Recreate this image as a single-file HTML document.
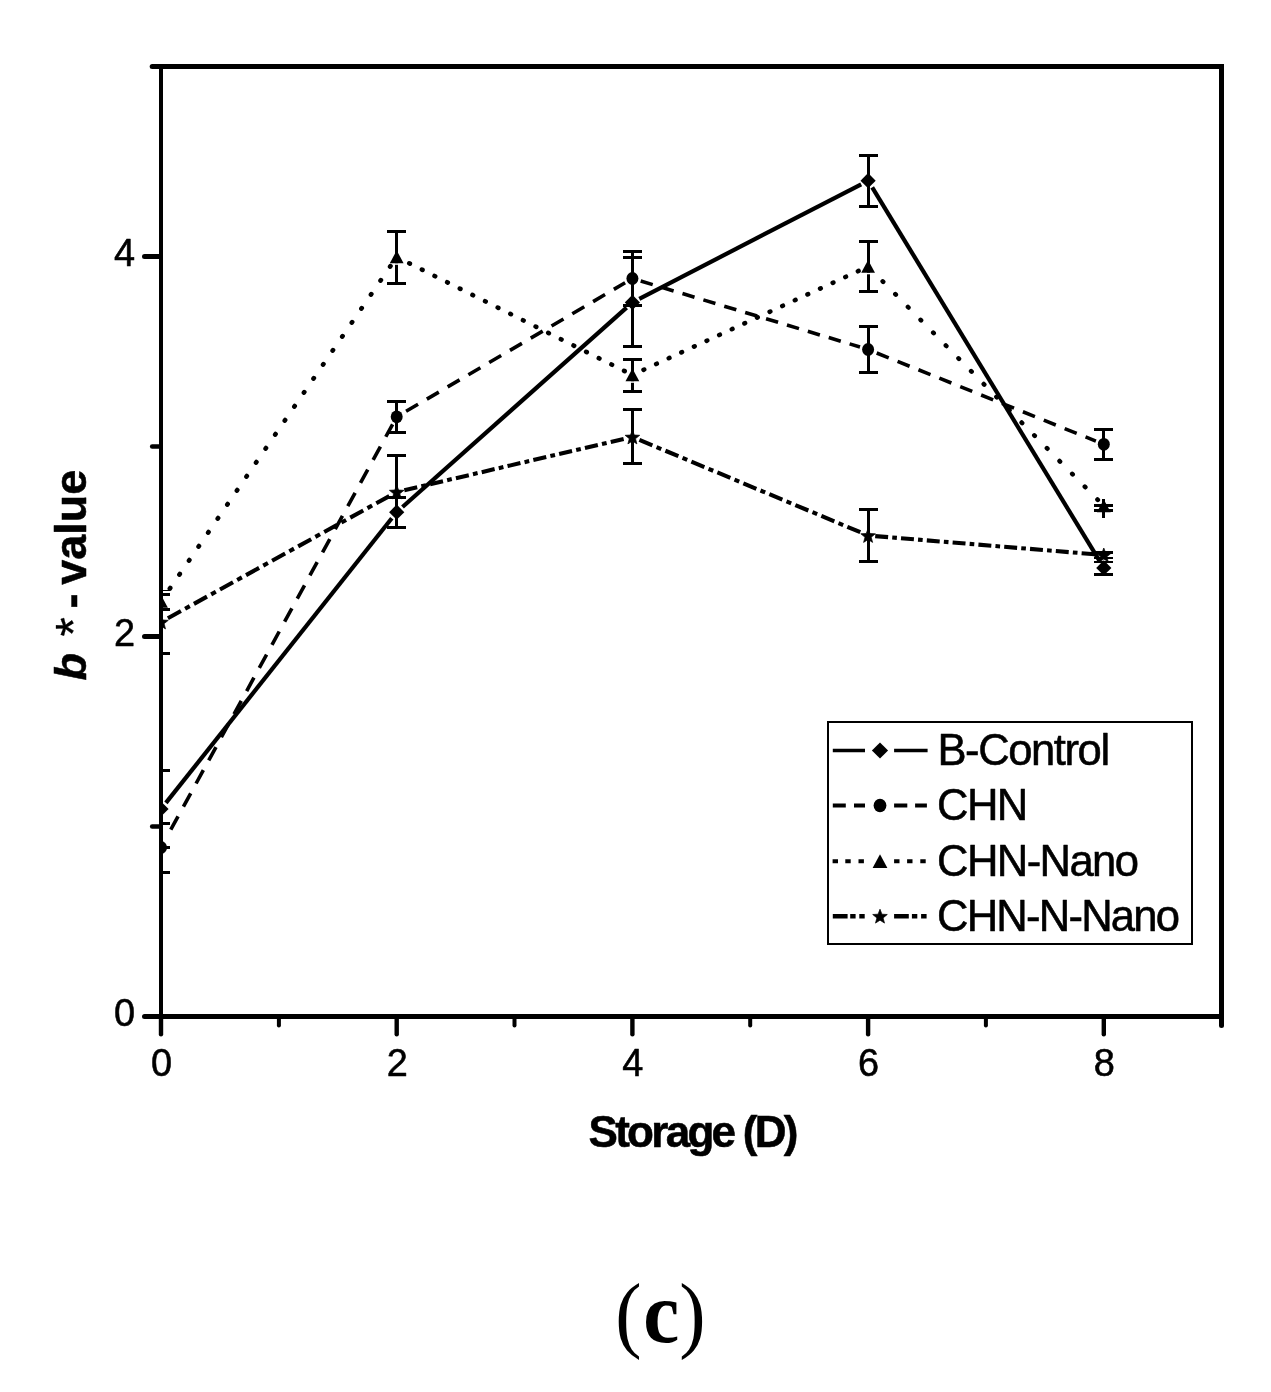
<!DOCTYPE html>
<html lang="en"><head><meta charset="utf-8"><title>b*-value vs Storage (c)</title>
<style>html,body{margin:0;padding:0;background:#fff}svg{display:block}</style></head>
<body>
<svg width="1271" height="1392" viewBox="0 0 1271 1392">
<rect width="1271" height="1392" fill="#fff"/>
<defs><clipPath id="cp"><rect x="161" y="66" width="1061" height="951"/></clipPath></defs>
<g clip-path="url(#cp)" fill="#000" stroke="none">
<path d="M165.9 802.9L391.8 518.3" stroke="#000" stroke-width="4.2" fill="none"/>
<path d="M402.5 507.0L626.6 307.6" stroke="#000" stroke-width="4.2" fill="none"/>
<path d="M639.3 298.8L861.2 184.3" stroke="#000" stroke-width="4.2" fill="none"/>
<path d="M872.2 187.4L1099.7 561.2" stroke="#000" stroke-width="4.2" fill="none"/>
<path d="M165.6 839.2L392.6 424.3" stroke="#000" stroke-width="3.6" fill="none" stroke-dasharray="15.15 11.20" stroke-dashoffset="15.55"/>
<path d="M406.1 411.3L625.1 282.8" stroke="#000" stroke-width="3.6" fill="none" stroke-dasharray="13.85 10.24" stroke-dashoffset="0.00"/>
<path d="M640.7 281.0L860.0 347.0" stroke="#000" stroke-width="3.6" fill="none" stroke-dasharray="12.55 9.27" stroke-dashoffset="0.00"/>
<path d="M876.7 353.0L1095.9 441.1" stroke="#000" stroke-width="3.6" fill="none" stroke-dasharray="12.94 9.57" stroke-dashoffset="0.00"/>
<path d="M165.8 594.5L391.9 264.0" stroke="#000" stroke-width="4.6" fill="none" stroke-dasharray="0.70 16.26" stroke-dashoffset="9.81" stroke-linecap="round"/>
<path d="M404.3 260.8L624.8 371.2" stroke="#000" stroke-width="4.6" fill="none" stroke-dasharray="0.70 13.43" stroke-dashoffset="8.58" stroke-linecap="round"/>
<path d="M640.1 371.4L860.4 270.1" stroke="#000" stroke-width="4.6" fill="none" stroke-dasharray="0.70 13.18" stroke-dashoffset="10.08" stroke-linecap="round"/>
<path d="M874.1 272.6L1097.8 499.9" stroke="#000" stroke-width="4.6" fill="none" stroke-dasharray="0.70 17.31" stroke-dashoffset="5.76" stroke-linecap="round"/>
<path d="M167.9 618.2L389.3 496.1" stroke="#000" stroke-width="4.1" fill="none" stroke-dasharray="14.88 4.76 5.35 4.76" stroke-dashoffset="0.00"/>
<path d="M404.3 490.2L624.1 438.9" stroke="#000" stroke-width="4.1" fill="none" stroke-dasharray="13.25 4.24 4.77 4.24" stroke-dashoffset="0.00"/>
<path d="M639.4 439.9L860.3 532.2" stroke="#000" stroke-width="4.1" fill="none" stroke-dasharray="14.08 4.51 5.07 4.51" stroke-dashoffset="0.00"/>
<path d="M875.2 536.1L1095.3 554.3" stroke="#000" stroke-width="4.1" fill="none" stroke-dasharray="12.95 4.14 4.66 4.14" stroke-dashoffset="0.00"/>
<g fill="#000" stroke="none" shape-rendering="crispEdges">
<rect x="159" y="771" width="3" height="76"/>
<rect x="151" y="769" width="19" height="3"/>
<rect x="151" y="846" width="19" height="3"/>
<rect x="395" y="498" width="3" height="29"/>
<rect x="387" y="496" width="19" height="3"/>
<rect x="387" y="526" width="19" height="3"/>
<rect x="631" y="257" width="3" height="89"/>
<rect x="623" y="256" width="19" height="3"/>
<rect x="623" y="345" width="19" height="3"/>
<rect x="867" y="156" width="3" height="51"/>
<rect x="859" y="154" width="19" height="3"/>
<rect x="859" y="205" width="19" height="3"/>
<rect x="1102" y="562" width="3" height="12"/>
<rect x="1094" y="561" width="19" height="2"/>
<rect x="1094" y="573" width="19" height="3"/>
<rect x="159" y="823" width="3" height="49"/>
<rect x="151" y="822" width="19" height="3"/>
<rect x="151" y="871" width="19" height="3"/>
<rect x="395" y="402" width="3" height="30"/>
<rect x="387" y="400" width="19" height="3"/>
<rect x="387" y="431" width="19" height="3"/>
<rect x="631" y="252" width="3" height="53"/>
<rect x="623" y="250" width="19" height="3"/>
<rect x="623" y="304" width="19" height="3"/>
<rect x="867" y="326" width="3" height="46"/>
<rect x="859" y="325" width="19" height="3"/>
<rect x="859" y="371" width="19" height="3"/>
<rect x="1102" y="430" width="3" height="29"/>
<rect x="1094" y="428" width="19" height="3"/>
<rect x="1094" y="458" width="19" height="3"/>
<rect x="159" y="595" width="3" height="14"/>
<rect x="151" y="593" width="19" height="3"/>
<rect x="151" y="608" width="19" height="3"/>
<rect x="395" y="232" width="3" height="52"/>
<rect x="387" y="230" width="19" height="3"/>
<rect x="387" y="282" width="19" height="3"/>
<rect x="631" y="360" width="3" height="31"/>
<rect x="623" y="358" width="19" height="3"/>
<rect x="623" y="390" width="19" height="3"/>
<rect x="867" y="242" width="3" height="50"/>
<rect x="859" y="240" width="19" height="3"/>
<rect x="859" y="290" width="19" height="3"/>
<rect x="1102" y="499" width="3" height="19"/>
<rect x="1094" y="504" width="19" height="3"/>
<rect x="1094" y="509" width="19" height="3"/>
<rect x="159" y="591" width="3" height="62"/>
<rect x="151" y="590" width="19" height="1"/>
<rect x="151" y="652" width="19" height="3"/>
<rect x="395" y="455" width="3" height="72"/>
<rect x="387" y="454" width="19" height="3"/>
<rect x="387" y="526" width="19" height="3"/>
<rect x="631" y="410" width="3" height="54"/>
<rect x="623" y="408" width="19" height="3"/>
<rect x="623" y="462" width="19" height="3"/>
<rect x="867" y="510" width="3" height="51"/>
<rect x="859" y="508" width="19" height="3"/>
<rect x="859" y="560" width="19" height="3"/>
<rect x="1102" y="552" width="3" height="6"/>
<rect x="1094" y="551" width="19" height="3"/>
<rect x="1094" y="557" width="19" height="2"/>
</g>
<rect x="395" y="263.2" width="3" height="1.6" fill="#fff"/>
<rect x="631" y="381.2" width="3" height="1.6" fill="#fff"/>
<rect x="867" y="272.7" width="3" height="1.6" fill="#fff"/>
<path d="M161.0 801.4L168.6 809.0L161.0 816.6L153.4 809.0Z"/>
<path d="M396.7 504.6L404.3 512.2L396.7 519.8L389.1 512.2Z"/>
<path d="M632.4 294.8L640.0 302.4L632.4 310.0L624.8 302.4Z"/>
<path d="M868.1 173.1L875.7 180.7L868.1 188.3L860.5 180.7Z"/>
<path d="M1103.8 560.3L1111.4 567.9L1103.8 575.5L1096.2 567.9Z"/>
<ellipse cx="161.0" cy="847.5" rx="6.0" ry="6.4"/>
<ellipse cx="396.7" cy="416.8" rx="6.0" ry="6.4"/>
<ellipse cx="632.4" cy="278.5" rx="6.0" ry="6.4"/>
<ellipse cx="868.1" cy="349.5" rx="6.0" ry="6.4"/>
<ellipse cx="1103.8" cy="444.3" rx="6.0" ry="6.4"/>
<path d="M161.0 594.9L167.9 607.7L154.1 607.7Z"/>
<path d="M396.7 250.4L403.6 263.2L389.8 263.2Z"/>
<path d="M632.4 368.4L639.3 381.2L625.5 381.2Z"/>
<path d="M868.1 259.9L875.0 272.7L861.2 272.7Z"/>
<path d="M1103.8 499.4L1110.7 512.2L1096.9 512.2Z"/>
<path d="M161.0 615.0L162.9 620.0L168.3 620.3L164.1 623.7L165.5 628.9L161.0 626.0L156.5 628.9L157.9 623.7L153.7 620.3L159.1 620.0Z" stroke="#000" stroke-width="0.7" stroke-linejoin="miter"/>
<path d="M396.7 485.0L398.6 490.0L404.0 490.3L399.8 493.7L401.2 498.9L396.7 496.0L392.2 498.9L393.6 493.7L389.4 490.3L394.8 490.0Z" stroke="#000" stroke-width="0.7" stroke-linejoin="miter"/>
<path d="M632.4 430.0L634.3 435.0L639.7 435.3L635.5 438.7L636.9 443.9L632.4 441.0L627.9 443.9L629.3 438.7L625.1 435.3L630.5 435.0Z" stroke="#000" stroke-width="0.7" stroke-linejoin="miter"/>
<path d="M868.1 528.5L870.0 533.5L875.4 533.8L871.2 537.2L872.6 542.4L868.1 539.5L863.6 542.4L865.0 537.2L860.8 533.8L866.2 533.5Z" stroke="#000" stroke-width="0.7" stroke-linejoin="miter"/>
<path d="M1103.8 548.0L1105.7 553.0L1111.1 553.3L1106.9 556.7L1108.3 561.9L1103.8 559.0L1099.3 561.9L1100.7 556.7L1096.5 553.3L1101.9 553.0Z" stroke="#000" stroke-width="0.7" stroke-linejoin="miter"/>
</g>
<g stroke="#000" fill="none" stroke-linecap="butt">
<path d="M161 64V1019" stroke-width="4" shape-rendering="crispEdges"/>
<path d="M1221.5 64V1025" stroke-width="5" shape-rendering="crispEdges"/>
<path d="M153 66.5H1224" stroke-width="5" shape-rendering="crispEdges"/>
<path d="M145 1016.5H1224" stroke-width="5" shape-rendering="crispEdges"/>
<path d="M144.5 1016.5H159" stroke-width="5" stroke-linecap="round"/>
<path d="M152.2 826.5H159" stroke-width="4.6" stroke-linecap="round"/>
<path d="M144.5 636.5H159" stroke-width="5" stroke-linecap="round"/>
<path d="M152.2 446.5H159" stroke-width="4.6" stroke-linecap="round"/>
<path d="M144.5 256.5H159" stroke-width="5" stroke-linecap="round"/>
<path d="M152.2 66.5H159" stroke-width="5" stroke-linecap="round"/>
<path d="M161.0 1018V1034.2" stroke-width="4.4" stroke-linecap="round"/>
<path d="M278.9 1018V1025.6" stroke-width="4" stroke-linecap="round"/>
<path d="M396.7 1018V1034.2" stroke-width="4.4" stroke-linecap="round"/>
<path d="M514.5 1018V1025.6" stroke-width="4" stroke-linecap="round"/>
<path d="M632.4 1018V1034.2" stroke-width="4.4" stroke-linecap="round"/>
<path d="M750.2 1018V1025.6" stroke-width="4" stroke-linecap="round"/>
<path d="M868.1 1018V1034.2" stroke-width="4.4" stroke-linecap="round"/>
<path d="M985.9 1018V1025.6" stroke-width="4" stroke-linecap="round"/>
<path d="M1103.8 1018V1034.2" stroke-width="4.4" stroke-linecap="round"/>
<path d="M1221.5 1018V1025.6" stroke-width="5" stroke-linecap="round"/>
</g>
<g font-family="'Liberation Sans', Arial, sans-serif" font-size="37.9" fill="#000" stroke="#000" stroke-width="0.55" stroke-linejoin="round">
<text x="135" y="1025.8" text-anchor="end">0</text>
<text x="135" y="645.8" text-anchor="end">2</text>
<text x="135" y="265.8" text-anchor="end">4</text>
<text x="161.5" y="1075.5" text-anchor="middle">0</text>
<text x="397.2" y="1075.5" text-anchor="middle">2</text>
<text x="632.9" y="1075.5" text-anchor="middle">4</text>
<text x="868.6" y="1075.5" text-anchor="middle">6</text>
<text x="1104.3" y="1075.5" text-anchor="middle">8</text>
</g>
<text x="588.5" y="1146.5" font-family="'Liberation Sans', Arial, sans-serif" font-weight="bold" font-size="44" textLength="210" lengthAdjust="spacing" stroke="#000" stroke-width="0.55" stroke-linejoin="round">Storage (D)</text>
<g transform="translate(86 679.5) rotate(-90)" font-family="'Liberation Sans', Arial, sans-serif" font-size="45" font-weight="bold" stroke="#000" stroke-width="0.55" stroke-linejoin="round">
<text x="-1" y="0" font-style="italic">b</text>
<text x="40.7" y="4.5" font-style="italic" font-weight="normal" font-size="50" stroke-width="0.3">*</text>
<text x="71" y="0">-</text>
<text x="94.8" y="0">value</text>
</g>
<rect x="828.2" y="722.2" width="363.3" height="221.6" fill="#fff" stroke="#000" stroke-width="2" shape-rendering="crispEdges"/>
<path d="M832.8 750.5H865.0M894.1 750.5H927.6" stroke="#000" stroke-width="3.3" fill="none"/>
<path d="M880.0 742.4L888.1 750.5L880.0 758.6L871.9 750.5Z"/>
<text x="937.4" y="765.1" font-family="'Liberation Sans', Arial, sans-serif" font-size="43.6" textLength="172.7" lengthAdjust="spacing" stroke="#000" stroke-width="0.55" stroke-linejoin="round">B-Control</text>
<path d="M832.8 805.5H845.8M854.0 805.5H865.0M894.1 805.5H907.3M915.1 805.5H926.9" stroke="#000" stroke-width="3.8" fill="none"/>
<ellipse cx="880.0" cy="805.5" rx="6.4" ry="6.8"/>
<text x="937" y="820.1" font-family="'Liberation Sans', Arial, sans-serif" font-size="43.6" letter-spacing="-1.6" stroke="#000" stroke-width="0.55" stroke-linejoin="round">CHN</text>
<path d="M832.6 861.3H838.0M845.3 861.3H850.7M858.5 861.3H863.9M894.1 861.3H899.5M907.1 861.3H912.5M920.3 861.3H925.7" stroke="#000" stroke-width="4.0" fill="none"/>
<path d="M880.0 854.2L887.4 867.9L872.6 867.9Z"/>
<text x="937" y="875.9" font-family="'Liberation Sans', Arial, sans-serif" font-size="43.6" letter-spacing="-1.6" stroke="#000" stroke-width="0.55" stroke-linejoin="round">CHN-Nano</text>
<path d="M832.8 916.2H847.6M850.2 916.2H855.6M859.3 916.2H864.7M894.1 916.2H908.8M911.9 916.2H917.3M921.1 916.2H926.6" stroke="#000" stroke-width="4.6" fill="none"/>
<path d="M880.0 909.2L881.9 914.2L887.3 914.5L883.1 917.9L884.5 923.1L880.0 920.2L875.5 923.1L876.9 917.9L872.7 914.5L878.1 914.2Z" stroke="#000" stroke-width="0.7" stroke-linejoin="miter"/>
<text x="937" y="930.8" font-family="'Liberation Sans', Arial, sans-serif" font-size="43.6" textLength="243" lengthAdjust="spacing" stroke="#000" stroke-width="0.55" stroke-linejoin="round">CHN-N-Nano</text>
<g font-family="'Liberation Serif', 'Times New Roman', serif" fill="#000">
<text transform="translate(615.3 1341.7) scale(0.93 1)" font-size="85">(</text>
<text transform="translate(643.2 1342) scale(0.943 1)" font-size="86" font-weight="bold">c</text>
<text transform="translate(679.3 1341.7) scale(0.93 1)" font-size="85">)</text>
</g>
</svg>
</body></html>
